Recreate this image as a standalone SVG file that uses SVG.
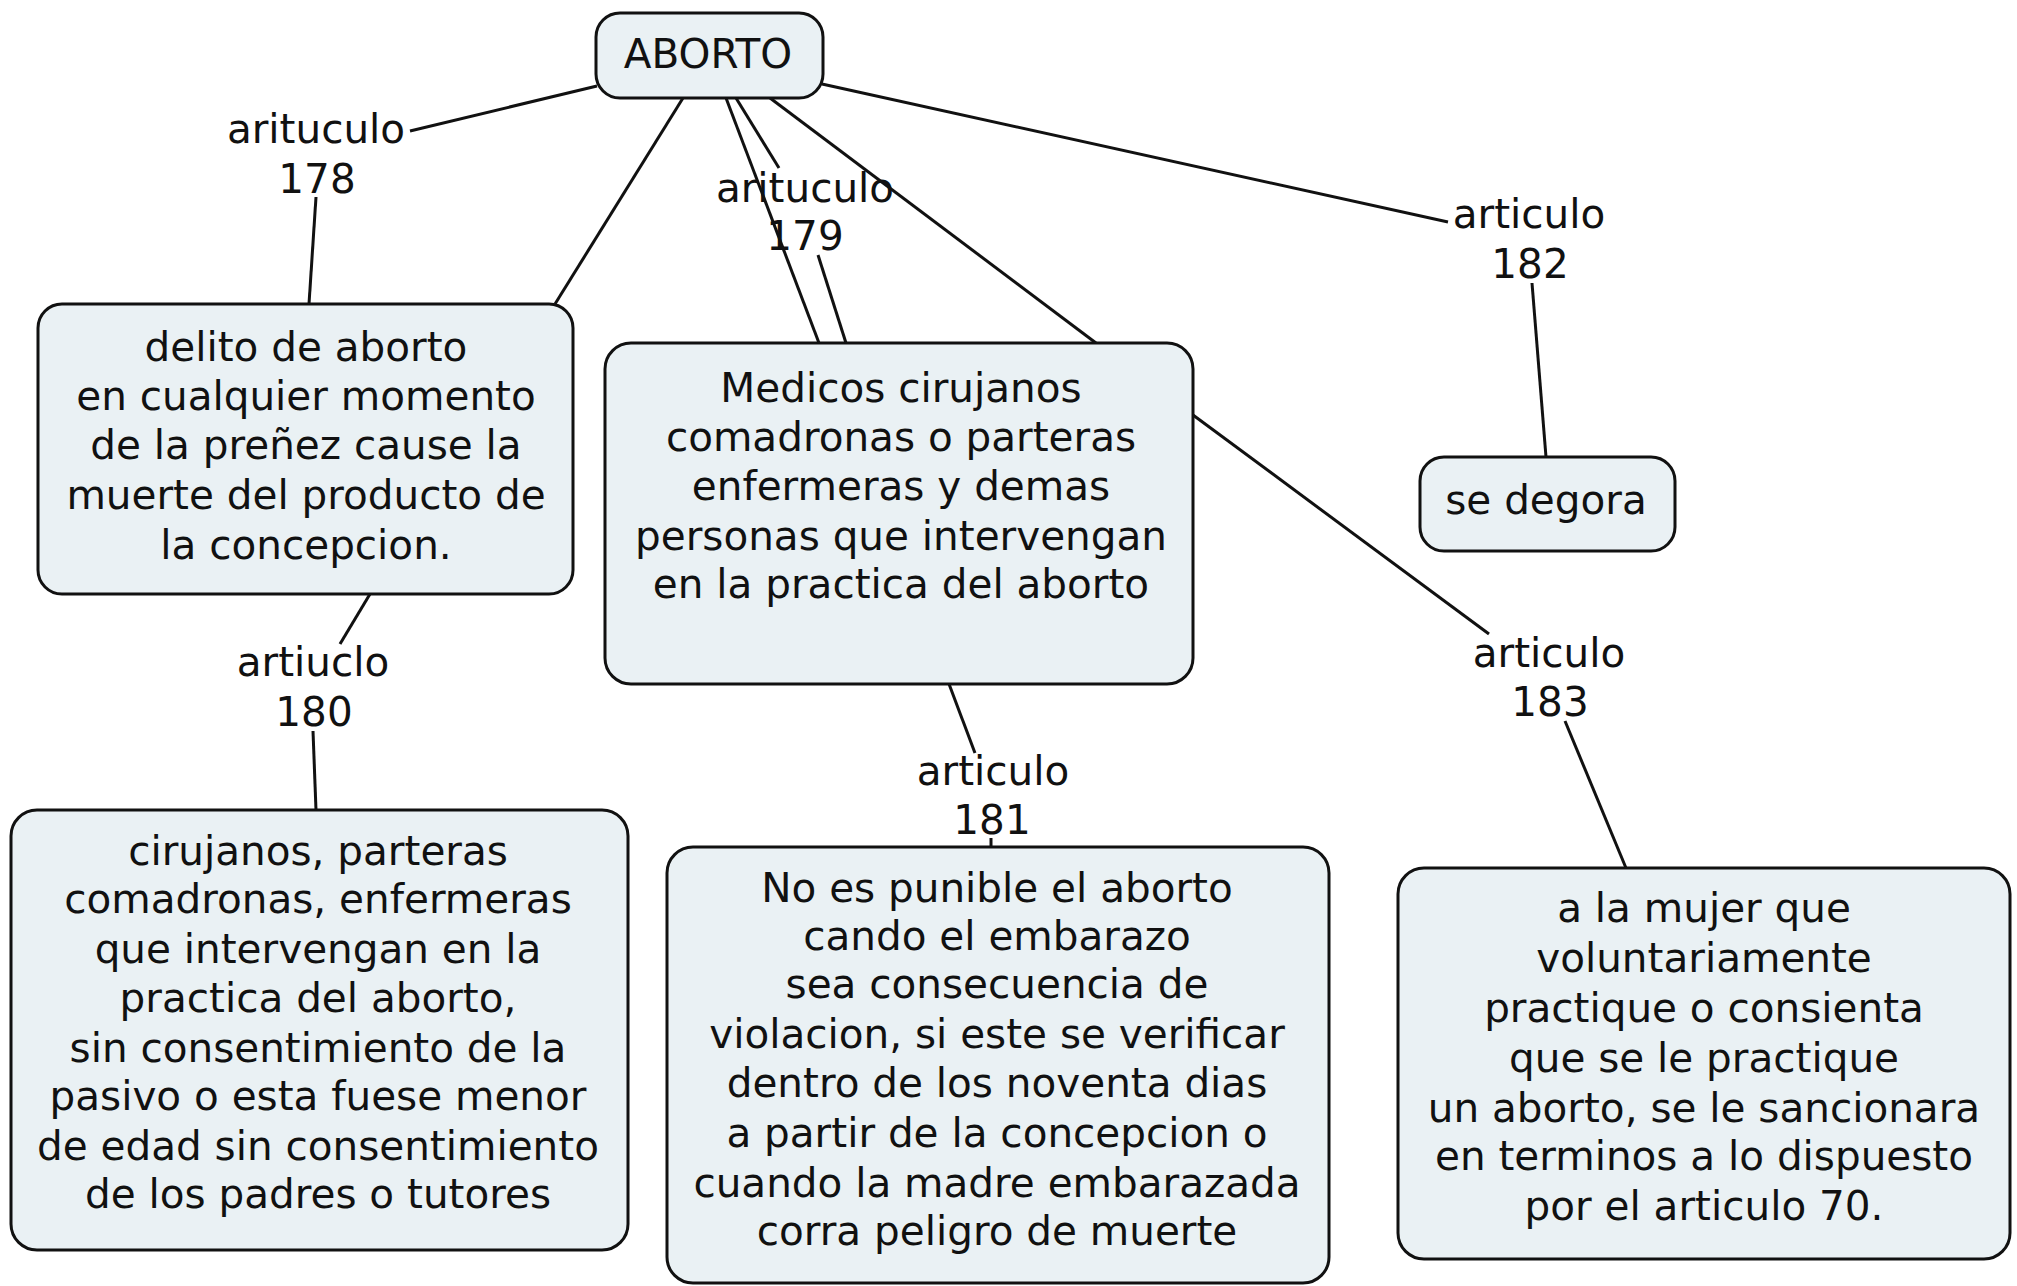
<svg xmlns="http://www.w3.org/2000/svg" width="2017" height="1286" viewBox="0 0 2017 1286">
<style>
.n{fill:#eaf1f4;stroke:#111;stroke-width:3}
.t{font-family:"DejaVu Sans",Verdana,sans-serif;font-size:40.5px;fill:#111;text-anchor:middle}
.c line{stroke:#111;stroke-width:3}
</style>
<rect width="2017" height="1286" fill="#fff"/>
<g class="c" id="connectors">
<line x1="597" y1="86" x2="410" y2="131"/>
<line x1="316" y1="197" x2="309" y2="304"/>
<line x1="683" y1="98" x2="555" y2="304"/>
<line x1="726" y1="98" x2="819" y2="343"/>
<line x1="736" y1="98" x2="779" y2="168"/>
<line x1="818" y1="255" x2="846" y2="343"/>
<line x1="770" y1="98" x2="1096" y2="343"/>
<line x1="822" y1="84" x2="1448" y2="222"/>
<line x1="1532" y1="283" x2="1546" y2="457"/>
<line x1="1193" y1="415" x2="1489" y2="634"/>
<line x1="1565" y1="721" x2="1626" y2="868"/>
<line x1="370" y1="594" x2="340" y2="644"/>
<line x1="313" y1="731" x2="316" y2="810"/>
<line x1="949" y1="684" x2="975" y2="753"/>
<line x1="991" y1="838" x2="991" y2="847"/>
</g>
<g id="lbl178"><text class="t" x="316" y="143">arituculo</text><text class="t" x="317" y="193">178</text></g>
<g id="lbl179"><text class="t" x="805" y="202">arituculo</text><text class="t" x="805" y="250">179</text></g>
<g id="lbl182"><text class="t" x="1529" y="228">articulo</text><text class="t" x="1530" y="278">182</text></g>
<g id="lbl180"><text class="t" x="313" y="676">artiuclo</text><text class="t" x="314" y="726">180</text></g>
<g id="lbl181"><text class="t" x="993" y="785">articulo</text><text class="t" x="992" y="834">181</text></g>
<g id="lbl183"><text class="t" x="1549" y="667">articulo</text><text class="t" x="1550" y="716">183</text></g>
<g id="aborto">
<rect class="n" x="596" y="13" width="227" height="85" rx="24"/>
<text class="t" x="708" y="68">ABORTO</text>
</g>
<g id="delito">
<rect class="n" x="38" y="304" width="535" height="290" rx="24"/>
<text class="t" x="306" y="361">delito de aborto</text>
<text class="t" x="306" y="410">en cualquier momento</text>
<text class="t" x="306" y="459">de la preñez cause la</text>
<text class="t" x="306" y="509">muerte del producto de</text>
<text class="t" x="306" y="559">la concepcion.</text>
</g>
<g id="medicos">
<rect class="n" x="605" y="343" width="588" height="341" rx="26"/>
<text class="t" x="901" y="402">Medicos cirujanos</text>
<text class="t" x="901" y="451">comadronas o parteras</text>
<text class="t" x="901" y="500">enfermeras y demas</text>
<text class="t" x="901" y="550">personas que intervengan</text>
<text class="t" x="901" y="598">en la practica del aborto</text>
</g>
<g id="degora">
<rect class="n" x="1420" y="457" width="255" height="94" rx="24"/>
<text class="t" x="1546" y="514">se degora</text>
</g>
<g id="cirujanos">
<rect class="n" x="11" y="810" width="617" height="440" rx="26"/>
<text class="t" x="318" y="865">cirujanos, parteras</text>
<text class="t" x="318" y="913">comadronas, enfermeras</text>
<text class="t" x="318" y="963">que intervengan en la</text>
<text class="t" x="318" y="1012">practica del aborto,</text>
<text class="t" x="318" y="1062">sin consentimiento de la</text>
<text class="t" x="318" y="1110">pasivo o esta fuese menor</text>
<text class="t" x="318" y="1160">de edad sin consentimiento</text>
<text class="t" x="318" y="1208">de los padres o tutores</text>
</g>
<g id="punible">
<rect class="n" x="667" y="847" width="662" height="436" rx="26"/>
<text class="t" x="997" y="902">No es punible el aborto</text>
<text class="t" x="997" y="950">cando el embarazo</text>
<text class="t" x="997" y="998">sea consecuencia de</text>
<text class="t" x="997" y="1048">violacion, si este se verificar</text>
<text class="t" x="997" y="1097">dentro de los noventa dias</text>
<text class="t" x="997" y="1147">a partir de la concepcion o</text>
<text class="t" x="997" y="1197">cuando la madre embarazada</text>
<text class="t" x="997" y="1245">corra peligro de muerte</text>
</g>
<g id="mujer">
<rect class="n" x="1398" y="868" width="612" height="391" rx="26"/>
<text class="t" x="1704" y="922">a la mujer que</text>
<text class="t" x="1704" y="972">voluntariamente</text>
<text class="t" x="1704" y="1022">practique o consienta</text>
<text class="t" x="1704" y="1072">que se le practique</text>
<text class="t" x="1704" y="1122">un aborto, se le sancionara</text>
<text class="t" x="1704" y="1170">en terminos a lo dispuesto</text>
<text class="t" x="1704" y="1220">por el articulo 70.</text>
</g>
</svg>
